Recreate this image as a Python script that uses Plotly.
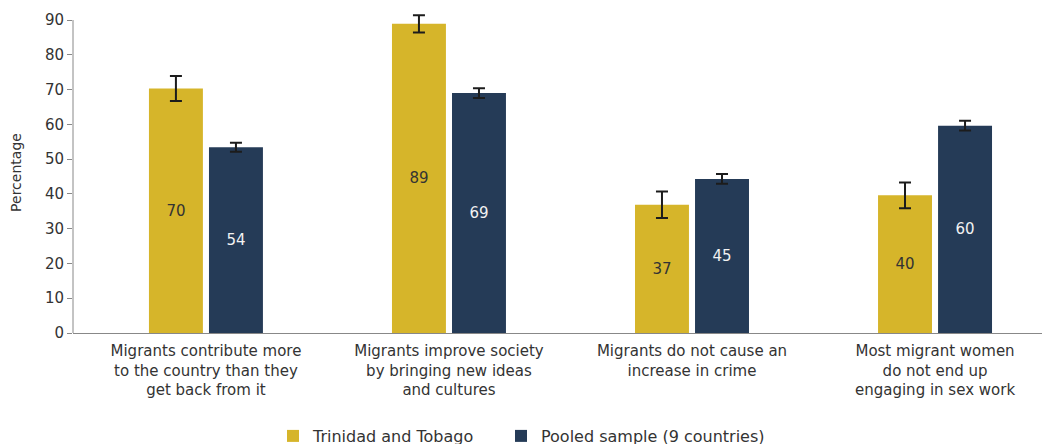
import plotly.graph_objects as go

categories = [
    "Migrants contribute more<br>to the country than they<br>get back from it",
    "Migrants improve society<br>by bringing new ideas<br>and cultures",
    "Migrants do not cause an<br>increase in crime",
    "Most migrant women<br>do not end up<br>engaging in sex work",
]
tt_values = [70.3, 88.9, 36.9, 39.6]
tt_err = [3.6, 2.5, 3.8, 3.7]
tt_labels = ["70", "89", "37", "40"]
pooled_values = [53.4, 69.0, 44.3, 59.6]
pooled_err = [1.3, 1.4, 1.4, 1.4]
pooled_labels = ["54", "69", "45", "60"]
y_ticks = [0, 10, 20, 30, 40, 50, 60, 70, 80, 90]

FONT = "DejaVu Sans"
x = list(range(len(categories)))
w = 0.222
gap = 0.0125

# page body has an 8px margin; layout compensates for it
M_L, M_R, M_T, M_B = 65, 0, 4, 119
px_per_unit = 313 / 90
y_top = (444 - M_T - M_B) / px_per_unit

fig = go.Figure()
fig.add_trace(go.Bar(
    x=x, y=tt_values, name="Trinidad and Tobago", legend="legend",
    width=w, offset=-w - gap,
    marker=dict(color="#D6B52A", line=dict(width=0)),
    text=tt_labels, textposition="inside", insidetextanchor="middle",
    textangle=0, constraintext="none",
    textfont=dict(color="#333333", size=15, family=FONT),
    error_y=dict(type="data", array=tt_err, color="#1c1c1c", thickness=2, width=6),
))
fig.add_trace(go.Bar(
    x=x, y=pooled_values, name="Pooled sample (9 countries)", legend="legend2",
    width=w, offset=gap,
    marker=dict(color="#253B57", line=dict(width=0)),
    text=pooled_labels, textposition="inside", insidetextanchor="middle",
    textangle=0, constraintext="none",
    textfont=dict(color="#f2f2f2", size=15, family=FONT),
    error_y=dict(type="data", array=pooled_err, color="#1c1c1c", thickness=2, width=6),
))

# y axis line stopping at the top tick
fig.add_shape(type="line", xref="paper", yref="y", x0=0, x1=0, y0=0, y1=y_ticks[-1],
              line=dict(color="#888888", width=1))

legend_common = dict(orientation="h", xref="container", xanchor="left",
                     yref="container", y=16 / 444, yanchor="middle",
                     font=dict(size=16, color="#333333"))

fig.update_layout(
    width=1050, height=444,
    margin=dict(l=M_L, r=M_R, t=M_T, b=M_B, autoexpand=False),
    paper_bgcolor="white", plot_bgcolor="white",
    font=dict(family=FONT, size=14, color="#333333"),
    barmode="overlay",
    showlegend=True,
    legend=dict(x=265 / 1050, **legend_common),
    legend2=dict(x=493 / 1050, **legend_common),
    xaxis=dict(
        tickmode="array", tickvals=x, ticktext=categories,
        range=[-0.547, 3.506], automargin=False,
        showline=True, linecolor="#888888", linewidth=1,
        ticks="", showgrid=False, zeroline=False,
        tickfont=dict(size=15, color="#333333"),
        ticklabelstandoff=4,
    ),
    yaxis=dict(
        range=[0, y_top], tickmode="array", tickvals=y_ticks, automargin=False,
        showline=False,
        ticks="outside", ticklen=5, tickcolor="#888888",
        showgrid=False, zeroline=False,
        tickfont=dict(size=15, color="#333333"),
        title=dict(text="Percentage", font=dict(size=14, color="#333333"), standoff=24),
    ),
)

fig.write_html("out.html")
